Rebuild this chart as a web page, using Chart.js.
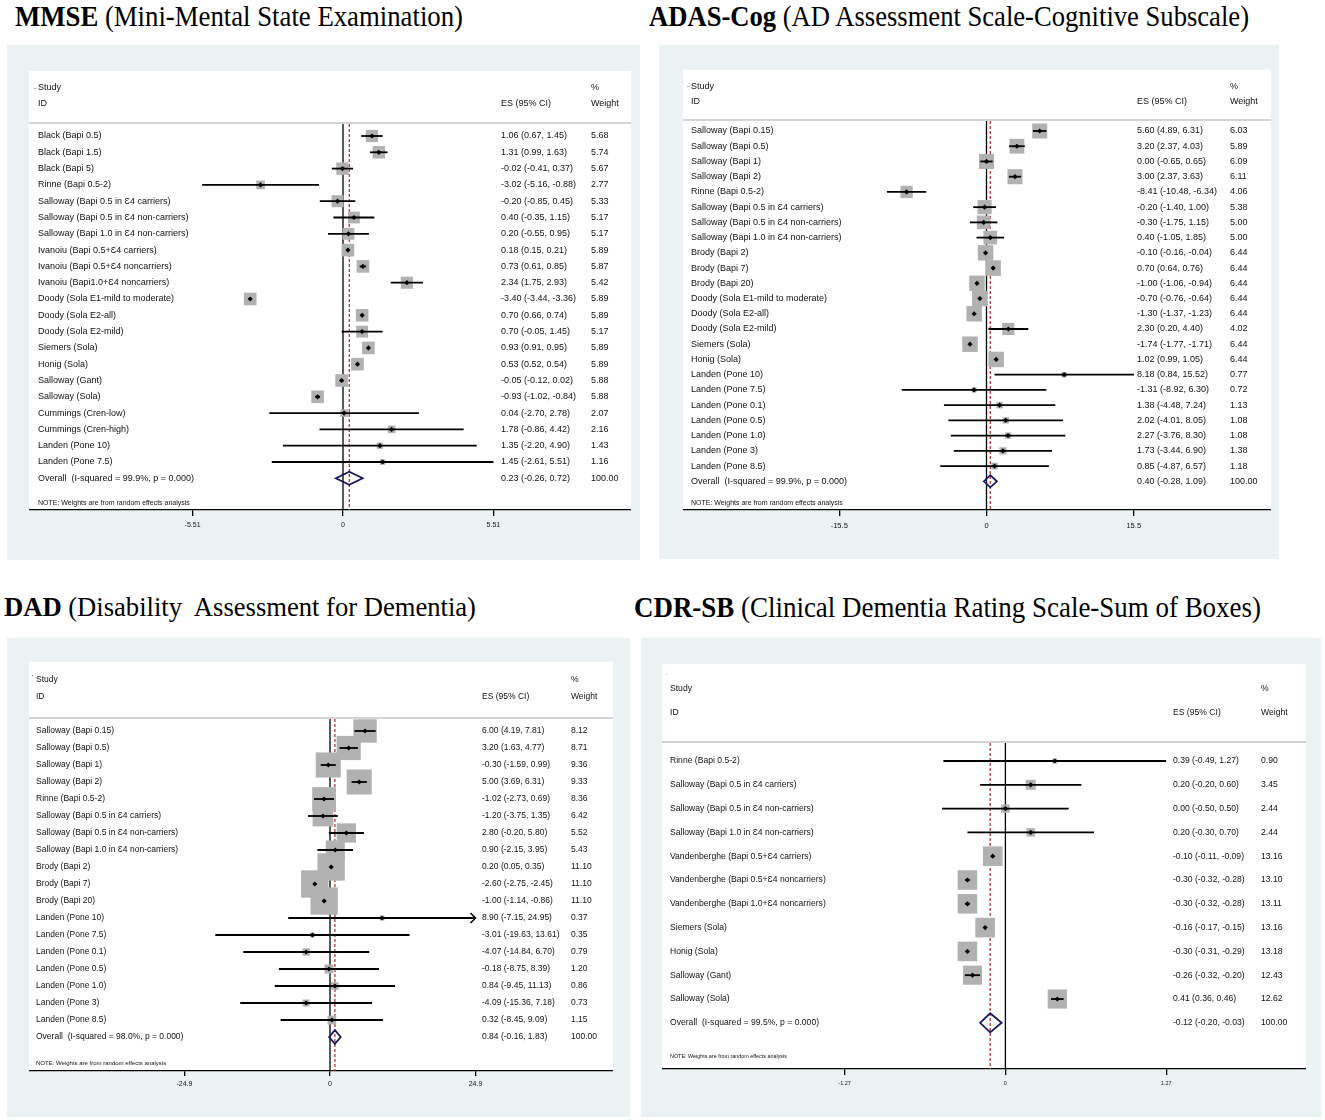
<!DOCTYPE html>
<html>
<head>
<meta charset="utf-8">
<script src="https://cdn.jsdelivr.net/npm/chart.js"></script>
<style>
html, body { margin: 0; padding: 0; background: #fff; }
body { width: 1325px; height: 1120px; position: relative; overflow: hidden; }
.panel { position: absolute; background: #eaf2f3; }
canvas { position: absolute; }
svg.titles { position: absolute; left: 0; top: 0; }
svg.titles text { font-family: "Liberation Serif", "Times New Roman", serif; white-space: pre; fill: #000; }
</style>
</head>
<body>
<div class="panel" style="left:7px;top:45px;width:633px;height:515px"></div>
<div class="panel" style="left:659px;top:45px;width:620px;height:514px"></div>
<div class="panel" style="left:7px;top:638px;width:623px;height:479px"></div>
<div class="panel" style="left:641px;top:638px;width:680px;height:479px"></div>

<svg class="titles" width="1325" height="1120">
  <text x="15" y="26" font-size="29" textLength="448" lengthAdjust="spacingAndGlyphs"><tspan font-weight="bold">MMSE</tspan> (Mini-Mental State Examination)</text>
  <text x="649" y="26" font-size="29" textLength="600" lengthAdjust="spacingAndGlyphs"><tspan font-weight="bold">ADAS-Cog</tspan> (AD Assessment Scale-Cognitive Subscale)</text>
  <text x="4" y="616" font-size="27" textLength="472" lengthAdjust="spacingAndGlyphs"><tspan font-weight="bold">DAD</tspan> (Disability  Assessment for Dementia)</text>
  <text x="634" y="617" font-size="29" textLength="627" lengthAdjust="spacingAndGlyphs"><tspan font-weight="bold">CDR-SB</tspan> (Clinical Dementia Rating Scale-Sum of Boxes)</text>
</svg>

<canvas id="mmseChart" width="602" height="469" style="left:29px;top:71px;width:602px;height:469px"></canvas>
<canvas id="adasChart" width="588" height="470" style="left:683px;top:70px;width:588px;height:470px"></canvas>
<canvas id="dadChart" width="584" height="439" style="left:29px;top:662px;width:584px;height:439px"></canvas>
<canvas id="cdrChart" width="644" height="435" style="left:662px;top:664px;width:644px;height:435px"></canvas>

<script>
// ---- MMSE ----
var mmseStudies = ['Black (Bapi 0.5)', 'Black (Bapi 1.5)', 'Black (Bapi 5)', 'Rinne (Bapi 0.5-2)',
  'Salloway (Bapi 0.5 in Ɛ4 carriers)', 'Salloway (Bapi 0.5 in Ɛ4 non-carriers)', 'Salloway (Bapi 1.0 in Ɛ4 non-carriers)',
  'Ivanoiu (Bapi 0.5+Ɛ4 carriers)', 'Ivanoiu (Bapi 0.5+Ɛ4 noncarriers)', 'Ivanoiu (Bapi1.0+Ɛ4 noncarriers)',
  'Doody (Sola E1-mild to moderate)', 'Doody (Sola E2-all)', 'Doody (Sola E2-mild)', 'Siemers (Sola)', 'Honig (Sola)',
  'Salloway (Gant)', 'Salloway (Sola)', 'Cummings (Cren-low)', 'Cummings (Cren-high)', 'Landen (Pone 10)', 'Landen (Pone 7.5)'];
var mmseES = [1.06, 1.31, -0.02, -3.02, -0.20, 0.40, 0.20, 0.18, 0.73, 2.34, -3.40, 0.70, 0.70, 0.93, 0.53, -0.05, -0.93, 0.04, 1.78, 1.35, 1.45];
var mmseLo = [0.67, 0.99, -0.41, -5.16, -0.85, -0.35, -0.55, 0.15, 0.61, 1.75, -3.44, 0.66, -0.05, 0.91, 0.52, -0.12, -1.02, -2.70, -0.86, -2.20, -2.61];
var mmseHi = [1.45, 1.63, 0.37, -0.88, 0.45, 1.15, 0.95, 0.21, 0.85, 2.93, -3.36, 0.74, 1.45, 0.95, 0.54, 0.02, -0.84, 2.78, 4.42, 4.90, 5.51];
var mmseWeight = [5.68, 5.74, 5.67, 2.77, 5.33, 5.17, 5.17, 5.89, 5.87, 5.42, 5.89, 5.89, 5.17, 5.89, 5.89, 5.88, 5.88, 2.07, 2.16, 1.43, 1.16];
var mmseOverall = [0.23, -0.26, 0.72];
var mmseOverallLabel = 'Overall  (I-squared = 99.9%, p = 0.000)';
var mmseTicks = [-5.51, 0, 5.51];

// ---- ADAS-Cog ----
var adasStudies = ['Salloway (Bapi 0.15)', 'Salloway (Bapi 0.5)', 'Salloway (Bapi 1)', 'Salloway (Bapi 2)', 'Rinne (Bapi 0.5-2)',
  'Salloway (Bapi 0.5 in Ɛ4 carriers)', 'Salloway (Bapi 0.5 in Ɛ4 non-carriers)', 'Salloway (Bapi 1.0 in Ɛ4 non-carriers)',
  'Brody (Bapi 2)', 'Brody (Bapi 7)', 'Brody (Bapi 20)', 'Doody (Sola E1-mild to moderate)', 'Doody (Sola E2-all)',
  'Doody (Sola E2-mild)', 'Siemers (Sola)', 'Honig (Sola)', 'Landen (Pone 10)', 'Landen (Pone 7.5)', 'Landen (Pone 0.1)',
  'Landen (Pone 0.5)', 'Landen (Pone 1.0)', 'Landen (Pone 3)', 'Landen (Pone 8.5)'];
var adasES = [5.60, 3.20, 0.00, 3.00, -8.41, -0.20, -0.30, 0.40, -0.10, 0.70, -1.00, -0.70, -1.30, 2.30, -1.74, 1.02, 8.18, -1.31, 1.38, 2.02, 2.27, 1.73, 0.85];
var adasLo = [4.89, 2.37, -0.65, 2.37, -10.48, -1.40, -1.75, -1.05, -0.16, 0.64, -1.06, -0.76, -1.37, 0.20, -1.77, 0.99, 0.84, -8.92, -4.48, -4.01, -3.76, -3.44, -4.87];
var adasHi = [6.31, 4.03, 0.65, 3.63, -6.34, 1.00, 1.15, 1.85, -0.04, 0.76, -0.94, -0.64, -1.23, 4.40, -1.71, 1.05, 15.52, 6.30, 7.24, 8.05, 8.30, 6.90, 6.57];
var adasWeight = [6.03, 5.89, 6.09, 6.11, 4.06, 5.38, 5.00, 5.00, 6.44, 6.44, 6.44, 6.44, 6.44, 4.02, 6.44, 6.44, 0.77, 0.72, 1.13, 1.08, 1.08, 1.38, 1.18];
var adasOverall = [0.40, -0.28, 1.09];
var adasOverallLabel = 'Overall  (I-squared = 99.9%, p = 0.000)';
var adasTicks = [-15.5, 0, 15.5];

// ---- DAD ----
var dadStudies = ['Salloway (Bapi 0.15)', 'Salloway (Bapi 0.5)', 'Salloway (Bapi 1)', 'Salloway (Bapi 2)', 'Rinne (Bapi 0.5-2)',
  'Salloway (Bapi 0.5 in Ɛ4 carriers)', 'Salloway (Bapi 0.5 in Ɛ4 non-carriers)', 'Salloway (Bapi 1.0 in Ɛ4 non-carriers)',
  'Brody (Bapi 2)', 'Brody (Bapi 7)', 'Brody (Bapi 20)', 'Landen (Pone 10)', 'Landen (Pone 7.5)', 'Landen (Pone 0.1)',
  'Landen (Pone 0.5)', 'Landen (Pone 1.0)', 'Landen (Pone 3)', 'Landen (Pone 8.5)'];
var dadES = [6.00, 3.20, -0.30, 5.00, -1.02, -1.20, 2.80, 0.90, 0.20, -2.60, -1.00, 8.90, -3.01, -4.07, -0.18, 0.84, -4.09, 0.32];
var dadLo = [4.19, 1.63, -1.59, 3.69, -2.73, -3.75, -0.20, -2.15, 0.05, -2.75, -1.14, -7.15, -19.63, -14.84, -8.75, -9.45, -15.36, -8.45];
var dadHi = [7.81, 4.77, 0.99, 6.31, 0.69, 1.35, 5.80, 3.95, 0.35, -2.45, -0.86, 24.95, 13.61, 6.70, 8.39, 11.13, 7.18, 9.09];
var dadWeight = [8.12, 8.71, 9.36, 9.33, 8.36, 6.42, 5.52, 5.43, 11.10, 11.10, 11.10, 0.37, 0.35, 0.79, 1.20, 0.86, 0.73, 1.15];
var dadOverall = [0.84, -0.16, 1.83];
var dadOverallLabel = 'Overall  (I-squared = 98.0%, p = 0.000)';
var dadTicks = [-24.9, 0, 24.9];

// ---- CDR-SB ----
var cdrStudies = ['Rinne (Bapi 0.5-2)', 'Salloway (Bapi 0.5 in Ɛ4 carriers)', 'Salloway (Bapi 0.5 in Ɛ4 non-carriers)',
  'Salloway (Bapi 1.0 in Ɛ4 non-carriers)', 'Vandenberghe (Bapi 0.5+Ɛ4 carriers)', 'Vandenberghe (Bapi 0.5+Ɛ4 noncarriers)',
  'Vandenberghe (Bapi 1.0+Ɛ4 noncarriers)', 'Siemers (Sola)', 'Honig (Sola)', 'Salloway (Gant)', 'Salloway (Sola)'];
var cdrES = [0.39, 0.20, 0.00, 0.20, -0.10, -0.30, -0.30, -0.16, -0.30, -0.26, 0.41];
var cdrLo = [-0.49, -0.20, -0.50, -0.30, -0.11, -0.32, -0.32, -0.17, -0.31, -0.32, 0.36];
var cdrHi = [1.27, 0.60, 0.50, 0.70, -0.09, -0.28, -0.28, -0.15, -0.29, -0.20, 0.46];
var cdrWeight = [0.90, 3.45, 2.44, 2.44, 13.16, 13.10, 13.11, 13.16, 13.18, 12.43, 12.62];
var cdrOverall = [-0.12, -0.20, -0.03];
var cdrOverallLabel = 'Overall  (I-squared = 99.5%, p = 0.000)';
var cdrTicks = [-1.27, 0, 1.27];

var noteText = 'NOTE: Weights are from random effects analysis';
var FONT = '"Liberation Sans", Arial, sans-serif';

// layout of each panel, in px of its canvas
var panels = [
  { id: 'mmseChart', studies: mmseStudies, es: mmseES, lo: mmseLo, hi: mmseHi, weight: mmseWeight,
    overall: mmseOverall, overallLabel: mmseOverallLabel, ticks: mmseTicks,
    g: { zeroPx: 314, ppu: 27.3, firstRow: 65, rowStep: 16.3, axisH: 30, hdr: [17, 33], rule: 52, note: 432, mark: '-', markY: 17,
         labelX: 9, esX: 472, wX: 562, font: 9, noteFont: 7, tickFont: 7, tickLen: 6, tickPad: 5, boxK: 5.2, clip: null } },
  { id: 'adasChart', studies: adasStudies, es: adasES, lo: adasLo, hi: adasHi, weight: adasWeight,
    overall: adasOverall, overallLabel: adasOverallLabel, ticks: adasTicks,
    g: { zeroPx: 303.5, ppu: 9.5, firstRow: 61, rowStep: 15.23, axisH: 30, hdr: [16.7, 31.7], rule: 50, note: 433, mark: '-', markY: 16.7,
         labelX: 8, esX: 454, wX: 547, font: 9, noteFont: 7, tickFont: 7.5, tickLen: 6, tickPad: 5, boxK: 6.1, clip: null } },
  { id: 'dadChart', studies: dadStudies, es: dadES, lo: dadLo, hi: dadHi, weight: dadWeight,
    overall: dadOverall, overallLabel: dadOverallLabel, ticks: dadTicks,
    g: { zeroPx: 301, ppu: 5.843, firstRow: 69, rowStep: 17, axisH: 30, hdr: [18, 35], rule: 56, note: 401, mark: "'", markY: 15,
         labelX: 7, esX: 453, wX: 542, font: 8.5, noteFont: 6, tickFont: 7, tickLen: 5, tickPad: 4, boxK: 8.2, clip: 24.9 } },
  { id: 'cdrChart', studies: cdrStudies, es: cdrES, lo: cdrLo, hi: cdrHi, weight: cdrWeight,
    overall: cdrOverall, overallLabel: cdrOverallLabel, ticks: cdrTicks,
    g: { zeroPx: 343.4, ppu: 126.6, firstRow: 97, rowStep: 23.8, axisH: 30, hdr: [25, 49], rule: 78, note: 393, mark: '.', markY: 9,
         labelX: 8, esX: 511, wX: 599, font: 8.6, noteFont: 5.4, tickFont: 5.5, tickLen: 6, tickPad: 5, boxK: 5.4, clip: null } }
];

function esText(es, lo, hi) {
  return es.toFixed(2) + ' (' + lo.toFixed(2) + ', ' + hi.toFixed(2) + ')';
}

function seg(ctx, x1, y1, x2, y2) {
  ctx.beginPath();
  ctx.moveTo(x1, y1);
  ctx.lineTo(x2, y2);
  ctx.stroke();
}

var forestPlugin = function(p) {
  var g = p.g;
  return {
    id: 'forest',
    beforeDraw: function(chart) {
      var ctx = chart.ctx, a = chart.chartArea;
      ctx.save();
      ctx.fillStyle = '#fff';
      ctx.fillRect(a.left, a.top, a.right - a.left, a.bottom - a.top);
      ctx.restore();
    },
    beforeDatasetsDraw: function(chart) {
      var ctx = chart.ctx, a = chart.chartArea, xs = chart.scales.x;
      var top = a.top + g.rule;
      ctx.save();
      ctx.strokeStyle = '#d4d4d4';
      ctx.lineWidth = 2;
      seg(ctx, a.left, top, a.right, top);
      var x0 = xs.getPixelForValue(0);
      ctx.strokeStyle = '#000';
      ctx.lineWidth = 1.3;
      seg(ctx, x0, top + 1, x0, a.bottom);
      var xo = xs.getPixelForValue(p.overall[0]);
      ctx.strokeStyle = '#b23a3a';
      ctx.lineWidth = 1.3;
      ctx.setLineDash([3, 2]);
      seg(ctx, xo, top + 1, xo, a.bottom);
      ctx.restore();
    },
    afterDatasetDraw: function(chart, args) {
      if (args.index !== 0) return;
      var ctx = chart.ctx, xs = chart.scales.x, ys = chart.scales.y;
      ctx.save();
      ctx.strokeStyle = '#000';
      ctx.lineWidth = 1.8;
      for (var i = 0; i < p.es.length; i++) {
        var lo = p.lo[i], hi = p.hi[i], arrow = false;
        if (g.clip !== null && hi > g.clip) { hi = g.clip; arrow = true; }
        if (g.clip !== null && lo < -g.clip) { lo = -g.clip; }
        var y = ys.getPixelForValue(i);
        var xl = xs.getPixelForValue(lo), xh = xs.getPixelForValue(hi);
        seg(ctx, xl, y, xh, y);
        if (arrow) {
          ctx.lineWidth = 1.5;
          ctx.beginPath();
          ctx.moveTo(xh - 5, y - 5);
          ctx.lineTo(xh, y);
          ctx.lineTo(xh - 5, y + 5);
          ctx.stroke();
          ctx.lineWidth = 1.8;
        }
      }
      ctx.restore();
    },
    afterDatasetsDraw: function(chart) {
      var ctx = chart.ctx, a = chart.chartArea, xs = chart.scales.x, ys = chart.scales.y;
      var n = p.es.length;
      // pooled diamond
      var yo = ys.getPixelForValue(n);
      var h = ys.getPixelForValue(n + 0.4) - yo;
      var xe = xs.getPixelForValue(p.overall[0]);
      ctx.save();
      ctx.strokeStyle = '#161660';
      ctx.lineWidth = 1.8;
      ctx.beginPath();
      ctx.moveTo(xs.getPixelForValue(p.overall[1]), yo);
      ctx.lineTo(xe, yo - h);
      ctx.lineTo(xs.getPixelForValue(p.overall[2]), yo);
      ctx.lineTo(xe, yo + h);
      ctx.closePath();
      ctx.stroke();

      // table text
      ctx.fillStyle = '#111';
      ctx.textBaseline = 'middle';
      ctx.textAlign = 'left';
      ctx.font = g.font + 'px ' + FONT;
      var lx = a.left + g.labelX, ex = a.left + g.esX, wx = a.left + g.wX;
      ctx.fillText('Study', lx, a.top + g.hdr[0]);
      ctx.fillText('ID', lx, a.top + g.hdr[1]);
      ctx.fillText('ES (95% CI)', ex, a.top + g.hdr[1]);
      ctx.fillText('%', wx, a.top + g.hdr[0]);
      ctx.fillText('Weight', wx, a.top + g.hdr[1]);
      for (var i = 0; i < n; i++) {
        var y = ys.getPixelForValue(i);
        ctx.fillText(p.studies[i], lx, y);
        ctx.fillText(esText(p.es[i], p.lo[i], p.hi[i]), ex, y);
        ctx.fillText(p.weight[i].toFixed(2), wx, y);
      }
      ctx.fillText(p.overallLabel, lx, yo);
      ctx.fillText(esText(p.overall[0], p.overall[1], p.overall[2]), ex, yo);
      ctx.fillText('100.00', wx, yo);
      ctx.font = g.noteFont + 'px ' + FONT;
      ctx.fillText(noteText, lx, a.top + g.note);
      ctx.font = '6px ' + FONT;
      ctx.fillText(g.mark, lx - 4, a.top + g.markY);
      ctx.restore();
    }
  };
};

panels.forEach(function(p) {
  var g = p.g;
  var canvas = document.getElementById(p.id);
  var plotH = canvas.height - g.axisH;
  var yMin = -g.firstRow / g.rowStep;
  var yMax = yMin + plotH / g.rowStep;
  var pts = p.es.map(function(v, i) { return { x: v, y: i }; });
  new Chart(canvas, {
    type: 'scatter',
    data: {
      datasets: [{
        label: 'weight box',
        data: pts,
        pointStyle: 'rect',
        pointRadius: function(c) { return g.boxK * Math.sqrt(p.weight[c.dataIndex]) / Math.SQRT2; },
        pointBackgroundColor: '#b1b1b1',
        pointBorderWidth: 0,
        order: 2
      }, {
        label: 'estimate',
        data: pts,
        pointStyle: 'rectRot',
        pointRadius: 2.6,
        pointBackgroundColor: '#000',
        pointBorderWidth: 0,
        order: 1
      }]
    },
    options: {
      responsive: false,
      animation: false,
      events: [],
      layout: { padding: 0, autoPadding: false },
      plugins: { legend: { display: false }, tooltip: { enabled: false } },
      scales: {
        x: {
          type: 'linear',
          min: -g.zeroPx / g.ppu,
          max: (canvas.width - g.zeroPx) / g.ppu,
          afterBuildTicks: function(s) { s.ticks = p.ticks.map(function(v) { return { value: v }; }); },
          afterFit: function(s) { s.height = g.axisH; },
          border: { display: true, color: '#000', width: 1.3 },
          grid: { drawOnChartArea: false, drawTicks: true, tickLength: g.tickLen, color: '#000', lineWidth: 1.3 },
          ticks: {
            autoSkip: false, maxRotation: 0, padding: g.tickPad, color: '#111',
            font: { size: g.tickFont, family: FONT },
            callback: function(v) { return String(v); }
          }
        },
        y: { type: 'linear', min: yMin, max: yMax, reverse: true, display: false }
      }
    },
    plugins: [forestPlugin(p)]
  });
});
</script>
</body>
</html>
